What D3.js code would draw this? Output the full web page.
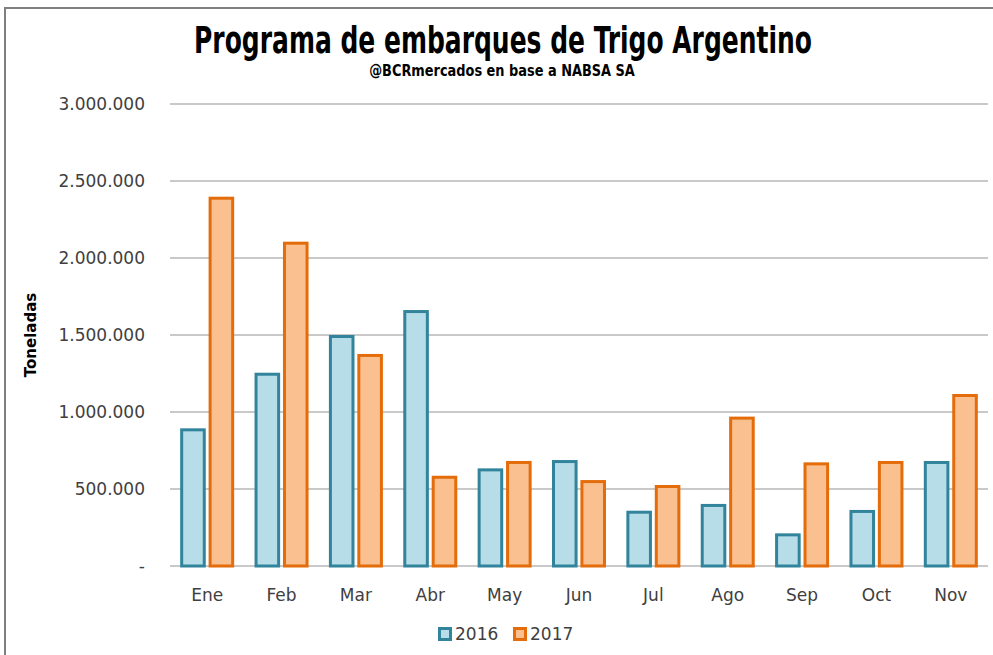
<!DOCTYPE html>
<html><head><meta charset="utf-8">
<script src="https://cdn.jsdelivr.net/npm/d3@7"></script>
<style>body{margin:0;background:#fff;} svg{display:block;}</style>
</head><body>
<svg id="c" width="993" height="655"></svg>
<script>
const months = ["Ene","Feb","Mar","Abr","May","Jun","Jul","Ago","Sep","Oct","Nov"];
const series = ["2016","2017"];
const v2016 = [894000,1255000,1500000,1662000,634000,688000,359000,403000,212000,364000,682000];
const v2017 = [2398000,2106000,1377000,586000,682000,558000,526000,970000,673000,682000,1117000];
const yTicks = [0,500000,1000000,1500000,2000000,2500000,3000000];
const yTickLabels = ["-","500.000","1.000.000","1.500.000","2.000.000","2.500.000","3.000.000"];
const title = "Programa de embarques de Trigo Argentino";
const subtitle = "@BCRmercados en base a NABSA SA";
const yTitle = "Toneladas";

(function(){
const colors = {"2016":{fill:"#b7dde8",stroke:"#31849b"},"2017":{fill:"#fac090",stroke:"#e46c0a"}};
const svg = d3.select("#c");
const pL=170, pR=988, pT=104, pB=566;
const x0 = d3.scaleBand().domain(months).range([pL,pR]);
const x1 = d3.scaleBand().domain(series).range([-27,27]).paddingInner(0.1);
const y = d3.scaleLinear().domain([0,3000000]).range([pB,pT]);
const labelFont = "'DejaVu Sans', Verdana, sans-serif";

// border
svg.append("line").attr("x1",5).attr("x2",5).attr("y1",7).attr("y2",655).attr("stroke","#7f7f7f").attr("stroke-width",2);
svg.append("line").attr("x1",4).attr("x2",993).attr("y1",8).attr("y2",8).attr("stroke","#7f7f7f").attr("stroke-width",2);

// gridlines
svg.append("g").selectAll("line").data(yTicks).join("line")
  .attr("x1",pL).attr("x2",pR).attr("y1",d=>y(d)).attr("y2",d=>y(d))
  .attr("stroke","#c9c9c9").attr("stroke-width",2);

// y labels
svg.append("g").selectAll("text").data(yTicks).join("text")
  .attr("x",145).attr("y",d=>y(d)+6).attr("text-anchor","end")
  .attr("font-family",labelFont).attr("font-size",17).attr("fill","#404040")
  .text((d,i)=>yTickLabels[i]);

// bars
const data = months.map((m,i)=>({m, vals:[{s:"2016",v:v2016[i]},{s:"2017",v:v2017[i]}]}));
const g = svg.append("g");
data.forEach(d=>{
  const cx = x0(d.m)+x0.bandwidth()/2;
  d.vals.forEach(b=>{
    g.append("rect")
      .attr("x",cx+x1(b.s)+1.5).attr("width",x1.bandwidth()-3)
      .attr("y",y(b.v)+1.5).attr("height",pB-y(b.v)-1.5)
      .attr("fill",colors[b.s].fill).attr("stroke",colors[b.s].stroke).attr("stroke-width",3);
  });
});

// x labels
svg.append("g").selectAll("text").data(months).join("text")
  .attr("x",d=>x0(d)+x0.bandwidth()/2).attr("y",601).attr("text-anchor","middle")
  .attr("font-family",labelFont).attr("font-size",17).attr("fill","#404040").text(d=>d);

// y title
svg.append("text").attr("transform","translate(36,335) rotate(-90)").attr("text-anchor","middle")
  .attr("font-family",labelFont).attr("font-weight","bold").attr("font-size",15).attr("fill","#000").text(yTitle);

// titles: keep font size, squeeze horizontally to reference width
const condFont = "'Liberation Sans Narrow','DejaVu Sans Condensed','Arial Narrow',sans-serif";
function squeeze(cx, cy, size, txt, target){
  const gg = svg.append("g");
  const tt = gg.append("text").attr("x",0).attr("y",0).attr("text-anchor","middle")
    .attr("font-family",condFont).attr("font-weight","bold").attr("font-size",size).attr("fill","#000").text(txt);
  const w = tt.node().getComputedTextLength();
  const k = w>0 ? Math.min(1.3, target/w) : 1;
  gg.attr("transform",`translate(${cx},${cy}) scale(${k},1)`);
}
squeeze(503, 53, 37, title, 618);
squeeze(502, 76, 15, subtitle, 266);

// legend
const leg = svg.append("g");
const legX = {"2016":438,"2017":513};
series.forEach(s=>{
  leg.append("rect").attr("x",legX[s]+1.5).attr("y",628.5).attr("width",11).attr("height",11)
    .attr("fill",colors[s].fill).attr("stroke",colors[s].stroke).attr("stroke-width",3);
  leg.append("text").attr("x",legX[s]+17).attr("y",640).attr("font-family",labelFont)
    .attr("font-size",17).attr("fill","#404040").text(s);
});
})();
</script>
</body></html>
